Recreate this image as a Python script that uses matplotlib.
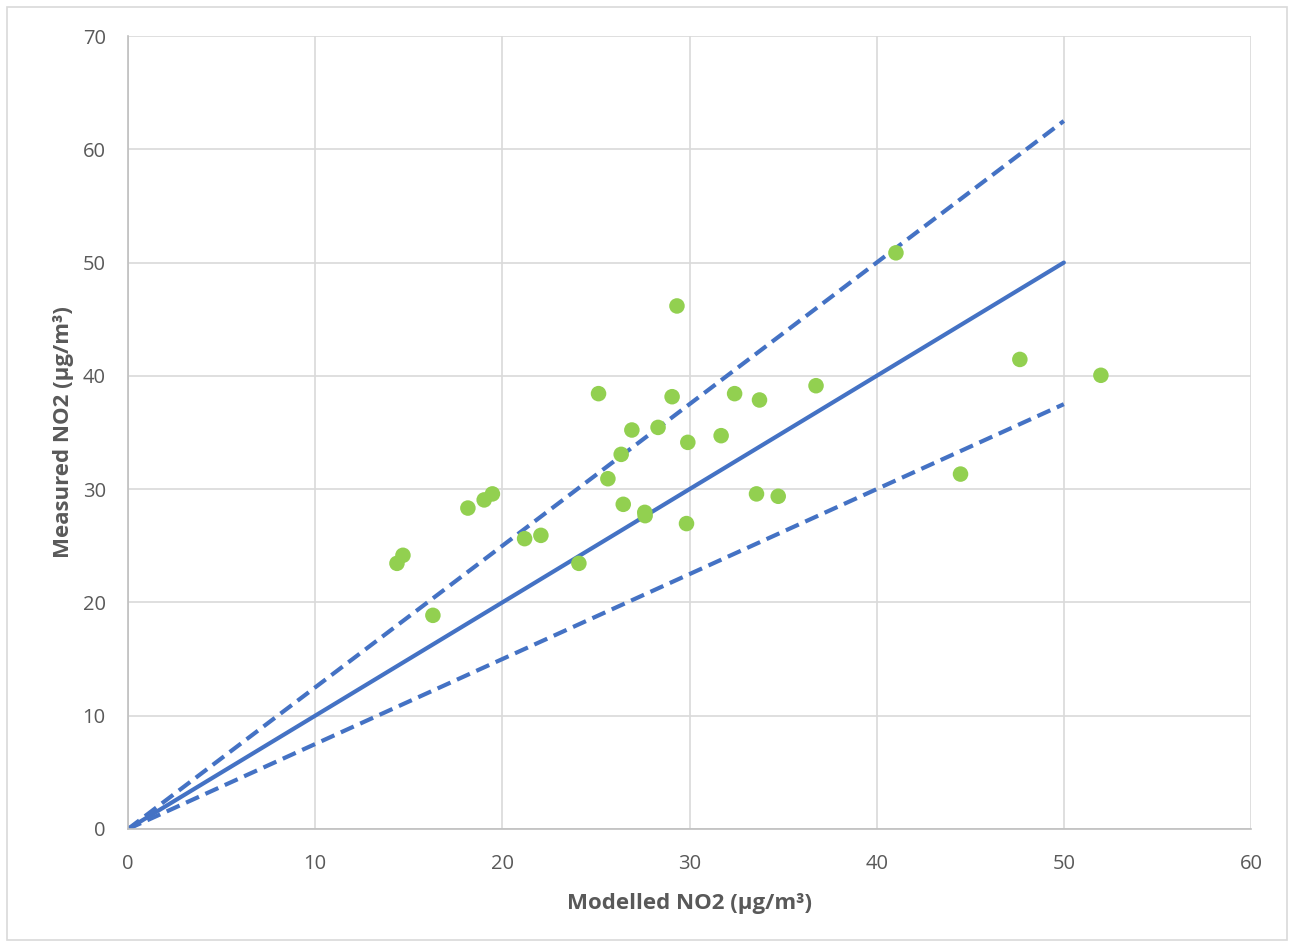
import matplotlib
matplotlib.use("Agg")
import matplotlib.pyplot as plt
from matplotlib.patches import Rectangle

# Data
modelled = [14.37, 14.69, 16.29, 18.16, 19.03, 19.47, 21.19, 22.06, 24.09, 25.14,
            25.64, 26.35, 26.46, 26.92, 27.61, 27.63, 28.32, 29.07, 29.33, 29.84,
            29.91, 31.69, 32.41, 33.58, 33.74, 34.74, 36.76, 41.03, 44.48, 47.65, 51.98]
measured = [23.45, 24.16, 18.86, 28.33, 29.05, 29.58, 25.63, 25.92, 23.45, 38.43,
            30.92, 33.07, 28.66, 35.22, 27.95, 27.66, 35.45, 38.16, 46.17, 26.96,
            34.13, 34.72, 38.43, 29.58, 37.87, 29.37, 39.13, 50.86, 31.33, 41.45, 40.05]
line_x = [0, 50]
one_to_one = [0, 50]
plus_25 = [0, 62.5]
minus_25 = [0, 37.5]

x_ticks = [0, 10, 20, 30, 40, 50, 60]
y_ticks = [0, 10, 20, 30, 40, 50, 60, 70]

plt.rcParams['font.family'] = ['Open Sans', 'DejaVu Sans']

fig = plt.figure(figsize=(12.93, 9.44), dpi=100)
ax = fig.add_axes([128/1293, 1-829/944, (1251-128)/1293, (829-36)/944])

fig.patches.append(Rectangle((7/1293, 4/944), 1280/1293, 933/944, transform=fig.transFigure,
                             fill=False, edgecolor='#d9d9d9', linewidth=1.2))

blue = '#4472c4'
green = '#92d050'
ax.plot(line_x, one_to_one, color=blue, linewidth=3.0, solid_capstyle='round', zorder=2)
ax.plot(line_x, plus_25, color=blue, linewidth=3.0, linestyle=(0, (3.4, 1.7)), zorder=2)
ax.plot(line_x, minus_25, color=blue, linewidth=3.0, linestyle=(0, (3.4, 1.7)), zorder=2)
ax.scatter(modelled, measured, s=125, color=green, edgecolors='none', zorder=3)

ax.set_xlim(0, 60)
ax.set_ylim(0, 70)
ax.set_xticks(x_ticks)
ax.set_yticks(y_ticks)
ax.grid(True, color='#d9d9d9', linewidth=1.2, zorder=0)
ax.set_axisbelow(True)
for s in ['top', 'right']:
    ax.spines[s].set_visible(False)
for s in ['left', 'bottom']:
    ax.spines[s].set_color('#bfbfbf')
    ax.spines[s].set_linewidth(1.2)
ax.tick_params(length=0, labelsize=14.5, labelcolor='#595959')
ax.tick_params(axis='x', pad=18)
ax.tick_params(axis='y', pad=16)

ax.set_xlabel('Modelled NO2 (µg/m³)', fontsize=16, fontweight='bold', color='#595959', labelpad=14)
ax.set_ylabel('Measured NO2 (µg/m³)', fontsize=16, fontweight='bold', color='#595959', labelpad=6)

fig.savefig('out.png', dpi=100)
